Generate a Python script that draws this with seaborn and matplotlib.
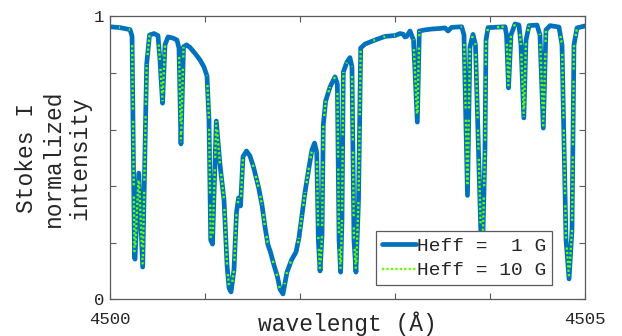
import matplotlib
matplotlib.use("Agg")
import matplotlib.pyplot as plt
from matplotlib.collections import LineCollection
import seaborn as sns
import numpy as np

# ---- data ----
wavelength = [
    4500.000, 4500.105, 4500.211, 4500.232, 4500.258, 4500.263, 4500.303, 4500.344,
    4500.386, 4500.416, 4500.463, 4500.505, 4500.526, 4500.553, 4500.579, 4500.611,
    4500.663, 4500.705, 4500.726, 4500.747, 4500.774, 4500.805, 4500.842, 4500.895,
    4500.947, 4500.989, 4501.021, 4501.042, 4501.060, 4501.079, 4501.119, 4501.158,
    4501.200, 4501.232, 4501.253, 4501.274, 4501.305, 4501.332, 4501.353, 4501.374,
    4501.400, 4501.437, 4501.474, 4501.511, 4501.563, 4501.600, 4501.632, 4501.663,
    4501.689, 4501.726, 4501.763, 4501.789, 4501.821, 4501.842, 4501.863, 4501.911,
    4501.958, 4501.989, 4502.021, 4502.053, 4502.095, 4502.126, 4502.153, 4502.176,
    4502.193, 4502.211, 4502.232, 4502.245, 4502.270, 4502.316, 4502.368, 4502.393,
    4502.411, 4502.428, 4502.442, 4502.456, 4502.492, 4502.526, 4502.547, 4502.568,
    4502.589, 4502.616, 4502.639, 4502.684, 4502.789, 4502.895, 4503.000, 4503.053,
    4503.084, 4503.105, 4503.123, 4503.158, 4503.195, 4503.235, 4503.256, 4503.316,
    4503.386, 4503.474, 4503.526, 4503.558, 4503.597, 4503.702, 4503.726, 4503.763,
    4503.789, 4503.821, 4503.847, 4503.879, 4503.916, 4503.947, 4503.958, 4503.979,
    4504.158, 4504.174, 4504.195, 4504.221, 4504.263, 4504.305, 4504.326, 4504.356,
    4504.379, 4504.411, 4504.495, 4504.526, 4504.561, 4504.589, 4504.632, 4504.726,
    4504.758, 4504.800, 4504.832, 4504.863, 4504.884, 4504.916, 4505.000,
]

intensity_1G = [
    0.963, 0.960, 0.953, 0.930, 0.150, 0.142, 0.446, 0.114,
    0.831, 0.934, 0.939, 0.932, 0.846, 0.693, 0.899, 0.927,
    0.923, 0.916, 0.888, 0.549, 0.892, 0.899, 0.890, 0.869,
    0.846, 0.821, 0.789, 0.634, 0.210, 0.195, 0.630, 0.475,
    0.351, 0.121, 0.040, 0.026, 0.104, 0.308, 0.358, 0.330,
    0.504, 0.524, 0.506, 0.467, 0.397, 0.333, 0.255, 0.192,
    0.167, 0.121, 0.079, 0.036, 0.019, 0.058, 0.096, 0.139,
    0.167, 0.217, 0.298, 0.379, 0.467, 0.528, 0.552, 0.520,
    0.210, 0.100, 0.227, 0.616, 0.701, 0.750, 0.786, 0.761,
    0.210, 0.096, 0.280, 0.803, 0.837, 0.854, 0.821, 0.210,
    0.096, 0.351, 0.888, 0.902, 0.916, 0.929, 0.932, 0.939,
    0.937, 0.927, 0.929, 0.948, 0.916, 0.626, 0.948, 0.952,
    0.955, 0.957, 0.959, 0.948, 0.961, 0.963, 0.934, 0.367,
    0.892, 0.936, 0.899, 0.528, 0.090, 0.528, 0.916, 0.960,
    0.963, 0.934, 0.747, 0.934, 0.973, 0.969, 0.899, 0.641,
    0.916, 0.967, 0.969, 0.934, 0.605, 0.952, 0.967, 0.962,
    0.899, 0.210, 0.072, 0.245, 0.899, 0.959, 0.966,
]

intensity_10G = [
    0.963, 0.960, 0.953, 0.930, 0.165, 0.160, 0.446, 0.120,
    0.831, 0.934, 0.939, 0.932, 0.846, 0.700, 0.899, 0.927,
    0.923, 0.916, 0.888, 0.555, 0.892, 0.899, 0.890, 0.869,
    0.846, 0.821, 0.789, 0.634, 0.215, 0.200, 0.630, 0.475,
    0.351, 0.121, 0.045, 0.030, 0.104, 0.308, 0.358, 0.330,
    0.504, 0.524, 0.506, 0.467, 0.397, 0.333, 0.255, 0.192,
    0.167, 0.121, 0.079, 0.036, 0.022, 0.058, 0.096, 0.139,
    0.167, 0.217, 0.298, 0.379, 0.467, 0.528, 0.552, 0.520,
    0.210, 0.105, 0.227, 0.616, 0.701, 0.750, 0.786, 0.761,
    0.210, 0.100, 0.280, 0.803, 0.837, 0.854, 0.821, 0.210,
    0.100, 0.351, 0.888, 0.902, 0.916, 0.929, 0.932, 0.939,
    0.937, 0.927, 0.929, 0.948, 0.916, 0.630, 0.948, 0.952,
    0.955, 0.957, 0.959, 0.948, 0.961, 0.963, 0.934, 0.375,
    0.892, 0.936, 0.899, 0.528, 0.100, 0.528, 0.916, 0.960,
    0.963, 0.934, 0.750, 0.934, 0.973, 0.969, 0.899, 0.645,
    0.916, 0.967, 0.969, 0.934, 0.610, 0.952, 0.967, 0.962,
    0.899, 0.215, 0.080, 0.245, 0.899, 0.959, 0.966,
]

series_labels = ["Heff =  1 G", "Heff = 10 G"]
x_ticks = [4500, 4501, 4502, 4503, 4504, 4505]
x_tick_labels = ["4500", "", "", "", "", "4505"]
y_ticks = [0, 0.2, 0.4, 0.6, 0.8, 1]
y_tick_labels = ["0", "", "", "", "", "1"]

# ---- style ----
sns.set_style("white")
plt.rcParams["font.family"] = ["Liberation Mono", "DejaVu Sans Mono"]
plt.rcParams["lines.scale_dashes"] = False

BLUE = "#0072BD"
GREEN = "#66FF00"

fig = plt.figure(figsize=(6.22, 3.36), dpi=100)
ax = fig.add_axes([110 / 622, 1 - 299.3 / 336, 475 / 622, 283 / 336])

sns.lineplot(x=wavelength, y=intensity_1G, ax=ax, color=BLUE, lw=3.4,
             estimator=None, sort=False, label=series_labels[0])
sns.lineplot(x=wavelength, y=intensity_10G, ax=ax, color=GREEN, lw=1.7,
             linestyle=(0, (1.6, 1.6)), estimator=None, sort=False,
             label=series_labels[1])

handles, labels = ax.get_legend_handles_labels()

# MATLAB-like rendering of the dotted line: the dot pattern restarts at every
# vertex, so only long (steep) segments show the green dots.
green_line = ax.lines[1]
xy = np.column_stack(green_line.get_data())
segs = np.stack([xy[:-1], xy[1:]], axis=1)
pattern = (0, [0.01, 6.5] + [1.6, 1.6] * 80)
lc = LineCollection(segs, colors=GREEN, linewidths=1.7, linestyles=[pattern],
                    capstyle="butt", zorder=green_line.get_zorder())
green_line.remove()
ax.add_collection(lc)

ax.set_xlim(4500, 4505)
ax.set_ylim(0, 1)
ax.set_xticks(x_ticks)
ax.set_xticklabels(x_tick_labels)
ax.set_yticks(y_ticks)
ax.set_yticklabels(y_tick_labels)

spine_col = "#5a5a5a"
for s in ax.spines.values():
    s.set_visible(True)
    s.set_color(spine_col)
    s.set_linewidth(0.9)
ax.tick_params(axis="both", direction="in", length=4.5, width=0.8,
               color=spine_col, labelcolor="#262626", labelsize=12.5,
               top=True, right=True, bottom=True, left=True)
ax.tick_params(axis="x", pad=9)
ax.tick_params(axis="y", pad=4)

ax.set_xlabel("wavelengt (Å)", fontsize=16.5, color="#262626")
ax.xaxis.set_label_coords(0.5, -0.085)
ax.xaxis.label.set_va("center")
ax.set_ylabel("Stokes I\nnormalized\nintensity", fontsize=16.5, color="#262626",
              linespacing=1.2)
ax.yaxis.set_label_coords(-0.12, 0.5)
ax.yaxis.label.set_va("center")

leg = ax.legend(handles, labels, loc="lower right", bbox_to_anchor=(0.931, 0.05),
                borderaxespad=0, fontsize=14, frameon=True, fancybox=False,
                framealpha=1, edgecolor="#5a5a5a", handlelength=1.75,
                handletextpad=0.05, borderpad=0.3, labelspacing=0.35)
leg.get_frame().set_linewidth(0.9)
leg.set_zorder(10)

fig.savefig("out.png", dpi=100)
